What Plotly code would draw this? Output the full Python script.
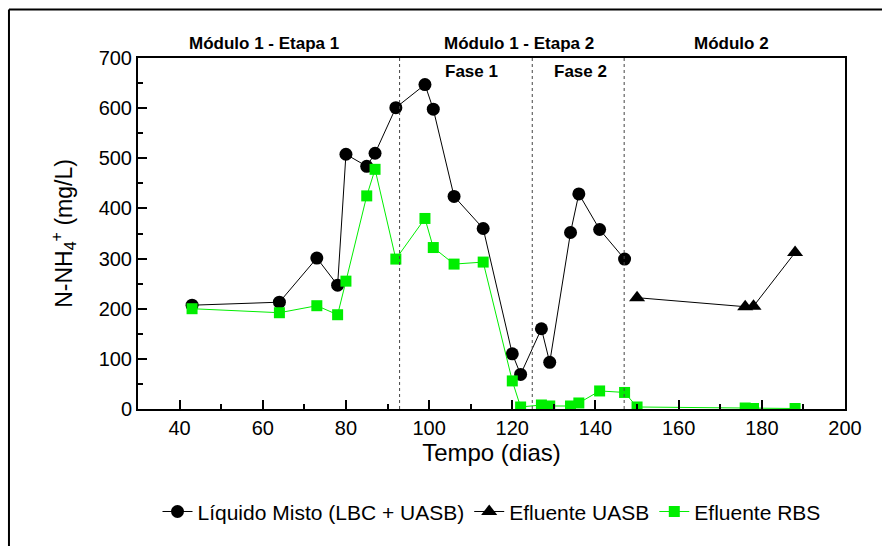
import plotly.graph_objects as go

# Líquido Misto (LBC + UASB)
lm_x = [43, 64, 73, 78, 80, 85, 87, 92, 99, 101, 106, 113, 120, 122, 127, 129, 134, 136, 141, 147]
lm_y = [207, 213, 301, 247, 508, 484, 510, 601, 647, 598, 424, 360, 110, 69, 160, 93, 352, 429, 358, 299]

# Efluente UASB
ua_x = [150, 176, 178, 188]
ua_y = [222, 204, 205, 312]

# Efluente RBS
rbs_x = [43, 64, 73, 78, 80, 85, 87, 92, 99, 101, 106, 113, 120, 122, 127, 129, 134, 136, 141, 147, 150, 176, 178, 188]
rbs_y = [200, 192, 206, 188, 255, 425, 478, 299, 380, 322, 289, 293, 56, 4, 8, 6, 6, 12, 36, 33, 4, 2, 1, 1]

phase_lines = [92.9, 124.8, 146.9]
section_labels = ["Módulo 1 - Etapa 1", "Módulo 1 - Etapa 2", "Módulo 2"]
section_pos = [60.2, 121.6, 172.8]
phase_labels = ["Fase 1", "Fase 2"]
phase_pos = [110.2, 136.5]

FONT = "Liberation Sans, Arial, sans-serif"

fig = go.Figure()
fig.add_trace(go.Scatter(
    x=lm_x, y=lm_y, mode="lines+markers", name="Líquido Misto (LBC + UASB)",
    line=dict(color="black", width=1),
    marker=dict(symbol="circle", size=13, color="black")))
fig.add_trace(go.Scatter(
    x=ua_x, y=ua_y, mode="lines+markers", name="Efluente UASB",
    line=dict(color="black", width=1),
    marker=dict(symbol="triangle-up", size=14, color="black")))
fig.add_trace(go.Scatter(
    x=rbs_x, y=rbs_y, mode="lines+markers", name="Efluente RBS",
    line=dict(color="#00ee00", width=1),
    marker=dict(symbol="square", size=11, color="#00ee00")))

shapes = []
for xv in phase_lines:
    shapes.append(dict(type="line", xref="x", yref="y", x0=xv, x1=xv, y0=0, y1=700,
                       line=dict(color="#444444", width=1, dash="3px,3px")))
# outer frame (top and left lines)
shapes.append(dict(type="line", xref="paper", yref="paper", x0=-0.1825, x1=1.07, y0=1.138, y1=1.138,
                   line=dict(color="black", width=2)))
shapes.append(dict(type="line", xref="paper", yref="paper", x0=-0.1825, x1=-0.1825, y0=1.138, y1=-0.40,
                   line=dict(color="black", width=2)))

annotations = []
for t, xv in zip(section_labels, section_pos):
    annotations.append(dict(text="<b>%s</b>" % t, x=xv, xref="x", y=1.04, yref="paper",
                            showarrow=False, yanchor="middle",
                            font=dict(family=FONT, size=17, color="black")))
for t, xv in zip(phase_labels, phase_pos):
    annotations.append(dict(text="<b>%s</b>" % t, x=xv, xref="x", y=0.962, yref="paper",
                            showarrow=False, yanchor="middle",
                            font=dict(family=FONT, size=17, color="black")))

fig.update_layout(
    width=882, height=546,
    margin=dict(l=138, r=37, t=58, b=137),
    paper_bgcolor="white", plot_bgcolor="white",
    font=dict(family=FONT, color="black"),
    showlegend=True,
    legend=dict(orientation="h", x=0.5, xanchor="center", y=-0.293, yanchor="middle",
                font=dict(family=FONT, size=21, color="black"),
                itemwidth=30, tracegroupgap=0, bgcolor="rgba(0,0,0,0)"),
    shapes=shapes, annotations=annotations,
    xaxis=dict(range=[30, 200], tickvals=[40, 60, 80, 100, 120, 140, 160, 180, 200],
               showgrid=False, zeroline=False, showline=True, linecolor="black", linewidth=2,
               mirror=True, ticks="inside", ticklen=9, tickwidth=2, tickcolor="black",
               tickfont=dict(family=FONT, size=20),
               minor=dict(ticks="inside", ticklen=5, tickwidth=1.5, tickcolor="black", dtick=10),
               title=dict(text="Tempo (dias)", font=dict(family=FONT, size=24), standoff=4)),
    yaxis=dict(range=[0, 700], dtick=100,
               showgrid=False, zeroline=False, showline=True, linecolor="black", linewidth=2,
               mirror=True, ticks="inside", ticklen=9, tickwidth=2, tickcolor="black",
               tickfont=dict(family=FONT, size=20),
               minor=dict(ticks="inside", ticklen=5, tickwidth=1.5, tickcolor="black", dtick=50),
               title=dict(text="N-NH<sub>4</sub><sup>+</sup> (mg/L)", font=dict(family=FONT, size=23), standoff=20)),
)

fig.write_html("out.html")
